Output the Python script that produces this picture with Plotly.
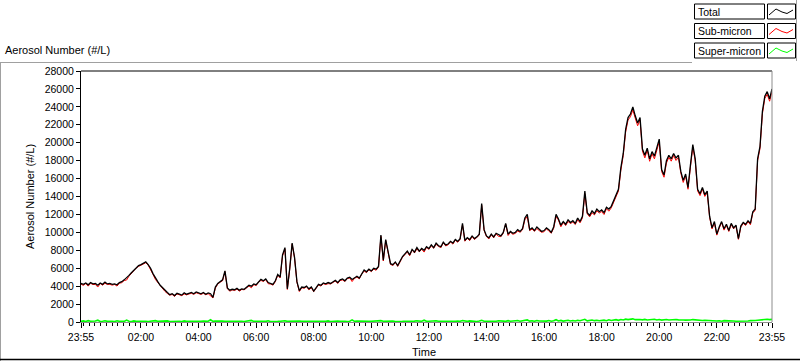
import pandas as pd
import plotly.graph_objects as go

# ---------------- data (5-minute steps) ----------------
time_start = "2000-01-01 23:55"
time_step = "5min"

total = [
    4300, 4200, 4350, 4150, 4400, 4250, 4300, 4100, 4350, 4200, 4450, 4250, 4300,
    4200, 4250, 4150, 4400, 4500, 4700, 4900, 5200, 5500, 5800, 6100, 6300,
    6400, 6600, 6700, 6400, 6000, 5400, 4900, 4500, 4100, 3800, 3500, 3300,
    3050, 3150, 2950, 3200, 3100, 3000, 3250, 3100, 3200, 3300, 3150, 3350,
    3250, 3150, 3300, 3100, 3250, 3150, 2750, 3900, 4300, 4500, 4700, 5700,
    3800, 3550, 3650, 3600, 3750, 3550, 3700, 3650, 3900, 4100, 4000, 4250,
    4150, 4500, 4750, 4600, 4800, 4400, 4300, 4200, 4600, 5300, 5000, 7500,
    8300, 3700, 6000, 8800, 7200, 4500, 3500, 3900, 3850, 4000, 3700, 3900,
    3450, 3800, 4200, 4100, 4350, 4250, 4400, 4300, 4500, 4650, 4400, 4700,
    4800, 4600, 4900, 5000, 4750, 4950, 5100, 4900, 5400, 5800, 5600, 5900,
    5700, 6000, 5900, 6200, 9700, 6900, 9200, 8000, 6500, 6400, 6700, 6300,
    6900, 7300, 7600, 7900, 7500, 8100, 7800, 8300, 7900, 8200, 8000, 8400,
    8200, 8600, 8300, 8800, 8500, 8400, 8900, 8600, 8700, 9000, 8800, 9200,
    9000, 9300, 11000, 9100, 9400, 9200, 9600, 9300, 9500, 9800, 13200, 10300,
    9600, 9400, 9800, 9500, 9900, 9700, 9600, 10000, 11000, 9800, 10100, 9900,
    10000, 10300, 10100, 10400, 11600, 12000, 10300, 10500, 10200, 10600, 10300, 10100,
    10200, 10500, 10300, 10000, 10600, 12000, 11500, 10800, 11200, 10900, 11400, 11100,
    11300, 11000, 11600, 11200, 11800, 14600, 12200, 11900, 12400, 12100, 12600, 12300,
    12500, 12200, 12800, 12600, 12900, 13600, 14200, 14800, 17200, 18800, 21500, 22800,
    23200, 24000, 23000, 22200, 22800, 19300, 18600, 19400, 18200, 19000, 18500, 19500,
    20400, 17000, 16400, 18000, 18600, 18200, 18800, 18300, 18600, 16800, 15800, 16500,
    15000, 17500, 19800, 18200, 14800, 14300, 15000, 14200, 14600, 11800, 10500, 11200,
    9800, 10600, 11200, 10400, 10900, 10200, 11000, 10500, 10800, 9300, 10700, 11100,
    10900, 11300, 11000, 12300, 12600, 18200, 19600, 23500, 25200, 25700, 24900, 26000,
]

super_micron = [
    80, 120, 60, 150, 90, 70, 110, 200, 60, 90, 130, 70, 100,
    90, 60, 140, 80, 110, 70, 220, 90, 60, 120, 80, 100,
    70, 130, 90, 60, 110, 80, 150, 70, 100, 60, 90, 120,
    60, 80, 100, 70, 90, 60, 120, 80, 70, 110, 60, 90,
    80, 70, 100, 60, 90, 250, 70, 110, 80, 60, 100, 90,
    70, 120, 60, 90, 80, 110, 70, 60, 100, 80, 180, 70,
    90, 60, 110, 80, 70, 130, 60, 90, 100, 70, 80, 120,
    140, 70, 90, 110, 60, 80, 100, 70, 90, 60, 110, 80,
    70, 90, 60, 100, 80, 70, 120, 60, 90, 80, 100, 70,
    110, 80, 60, 90, 240, 70, 100, 80, 60, 120, 90, 70,
    80, 100, 130, 70, 150, 90, 110, 80, 70, 100, 60, 90,
    120, 70, 90, 80, 110, 60, 100, 130, 70, 90, 200, 80,
    90, 110, 70, 140, 80, 100, 60, 120, 90, 70, 110, 80,
    100, 80, 160, 90, 70, 120, 80, 100, 60, 110, 190, 90,
    80, 130, 70, 110, 90, 140, 80, 100, 70, 150, 90, 120,
    110, 160, 90, 130, 200, 230, 100, 140, 80, 170, 110, 90,
    130, 100, 170, 90, 150, 260, 120, 180, 100, 140, 190, 110,
    160, 120, 200, 140, 180, 300, 130, 170, 220, 150, 190, 140,
    180, 210, 150, 240, 170, 200, 260, 190, 280, 230, 320, 270,
    300, 350, 260, 310, 280, 240, 290, 220, 270, 250, 300, 230,
    280, 210, 250, 270, 230, 260, 220, 280, 240, 200, 230, 210,
    190, 230, 270, 240, 180, 200, 170, 190, 160, 130, 120, 140,
    110, 130, 90, 150, 120, 100, 140, 110, 90, 80, 120, 100,
    130, 110, 150, 120, 160, 200, 240, 280, 260, 300, 270, 290,
]

# sub-micron = total minus super-micron
sub_micron = [t - s for t, s in zip(total, super_micron)]

series_names = ["Total", "Sub-micron", "Super-micron"]
series_colors = ["#000000", "#ff0000", "#00ff00"]

x_tick_vals = ["2000-01-01 23:55", "2000-01-02 02:00", "2000-01-02 04:00",
               "2000-01-02 06:00", "2000-01-02 08:00", "2000-01-02 10:00",
               "2000-01-02 12:00", "2000-01-02 14:00", "2000-01-02 16:00",
               "2000-01-02 18:00", "2000-01-02 20:00", "2000-01-02 22:00",
               "2000-01-02 23:55"]
x_tick_text = ["23:55", "02:00", "04:00", "06:00", "08:00", "10:00", "12:00",
               "14:00", "16:00", "18:00", "20:00", "22:00", "23:55"]
y_tick_vals = list(range(0, 28001, 2000))

# ---------------- figure ----------------
times = pd.date_range(time_start, periods=len(total), freq=time_step)

W, H = 800, 361
L, R, T, B = 81, 28, 71, 39
PW, PH = W - L - R, H - T - B


def px(x):
    return (x - L) / PW


def py(y):
    return (H - B - y) / PH


FONT = "Liberation Sans, Arial, sans-serif"

fig = go.Figure()
fig.add_trace(go.Scatter(x=times, y=super_micron, mode="lines", name=series_names[2],
                         line=dict(color=series_colors[2], width=1.6)))
fig.add_trace(go.Scatter(x=times, y=sub_micron, mode="lines", name=series_names[1],
                         line=dict(color=series_colors[1], width=1)))
fig.add_trace(go.Scatter(x=times, y=total, mode="lines", name=series_names[0],
                         line=dict(color=series_colors[0], width=1.3)))

shapes = []
annotations = []

# plot frame: top black, right gray
shapes.append(dict(type="line", xref="paper", yref="paper", x0=0, x1=1, y0=1, y1=1,
                   line=dict(color="black", width=1)))
shapes.append(dict(type="line", xref="paper", yref="paper", x0=1, x1=1, y0=0, y1=1,
                   line=dict(color="#8c8c8c", width=1)))
# outer panel lines
shapes.append(dict(type="line", xref="paper", yref="paper", x0=px(0), x1=px(692),
                   y0=py(62.5), y1=py(62.5), line=dict(color="#a0a0a0", width=1)))
shapes.append(dict(type="line", xref="paper", yref="paper", x0=px(0.5), x1=px(0.5),
                   y0=py(62.5), y1=py(361), line=dict(color="#a0a0a0", width=1)))
shapes.append(dict(type="line", xref="paper", yref="paper", x0=px(0), x1=px(800),
                   y0=py(359.5), y1=py(359.5), line=dict(color="black", width=1.5)))
shapes.append(dict(type="line", xref="paper", yref="paper", x0=px(796.5), x1=px(796.5),
                   y0=py(0), y1=py(61), line=dict(color="#a0a0a0", width=1)))

# custom legend: boxed label + boxed line sample
row_tops = [4, 23.5, 43]
row_h = 15
for name, color, top in zip(series_names, series_colors, row_tops):
    shapes.append(dict(type="rect", xref="paper", yref="paper",
                       x0=px(694.5), x1=px(764.5), y0=py(top), y1=py(top + row_h),
                       line=dict(color="black", width=1), fillcolor="white"))
    shapes.append(dict(type="rect", xref="paper", yref="paper",
                       x0=px(767.5), x1=px(795.5), y0=py(top), y1=py(top + row_h),
                       line=dict(color="black", width=1), fillcolor="white"))
    zig = [(769, top + 11), (776, top + 5), (782, top + 8), (787, top + 9.5), (793, top + 6)]
    path = "M " + " L ".join(f"{px(a)},{py(b)}" for a, b in zig)
    shapes.append(dict(type="path", xref="paper", yref="paper", path=path,
                       line=dict(color=color, width=1)))
    annotations.append(dict(text=name, xref="paper", yref="paper", x=px(696),
                            y=py(top + row_h / 2 + 0.5), xanchor="left", yanchor="middle",
                            showarrow=False, font=dict(family=FONT, size=10.5, color="black")))

# titles
annotations.append(dict(text="Aerosol Number (#/L)", xref="paper", yref="paper",
                        x=px(3), y=py(49.5), xanchor="left", yanchor="middle",
                        showarrow=False, font=dict(family=FONT, size=11, color="black")))
annotations.append(dict(text="Aerosol Number (#/L)", xref="paper", yref="paper",
                        x=px(30), y=py(197), xanchor="center", yanchor="middle",
                        textangle=-90, showarrow=False,
                        font=dict(family=FONT, size=11, color="black")))
annotations.append(dict(text="Time", xref="paper", yref="paper",
                        x=px(424), y=py(351.5), xanchor="center", yanchor="middle",
                        showarrow=False, font=dict(family=FONT, size=11, color="black")))

fig.update_layout(
    width=W, height=H,
    margin=dict(l=L, r=R, t=T, b=B, pad=0),
    paper_bgcolor="white", plot_bgcolor="white",
    showlegend=False,
    font=dict(family=FONT, size=10, color="black"),
    shapes=shapes, annotations=annotations,
    xaxis=dict(type="date", range=[times[0], times[-1]], showgrid=False, zeroline=False,
               showline=True, linecolor="#8c8c8c", linewidth=1,
               tickmode="array", tickvals=x_tick_vals, ticktext=x_tick_text,
               ticks="outside", ticklen=5, tickcolor="black", tickwidth=1,
               tickfont=dict(family=FONT, size=10.5, color="black"),
               minor=dict(ticks="outside", ticklen=3, tickcolor="black", tickwidth=1,
                          dtick=12 * 60 * 1000, tick0="2000-01-02 00:00", showgrid=False),
               automargin=False, fixedrange=True),
    yaxis=dict(range=[0, 28000], showgrid=False, zeroline=False,
               showline=True, linecolor="black", linewidth=1,
               tickmode="array", tickvals=y_tick_vals, tickformat="d",
               ticks="outside", ticklen=4, tickcolor="black", tickwidth=1,
               tickfont=dict(family=FONT, size=10.5, color="black"),
               automargin=False, fixedrange=True),
)

fig.write_html("out.html", config={"displayModeBar": False, "staticPlot": True},
               post_script="document.body.style.margin='0';")
